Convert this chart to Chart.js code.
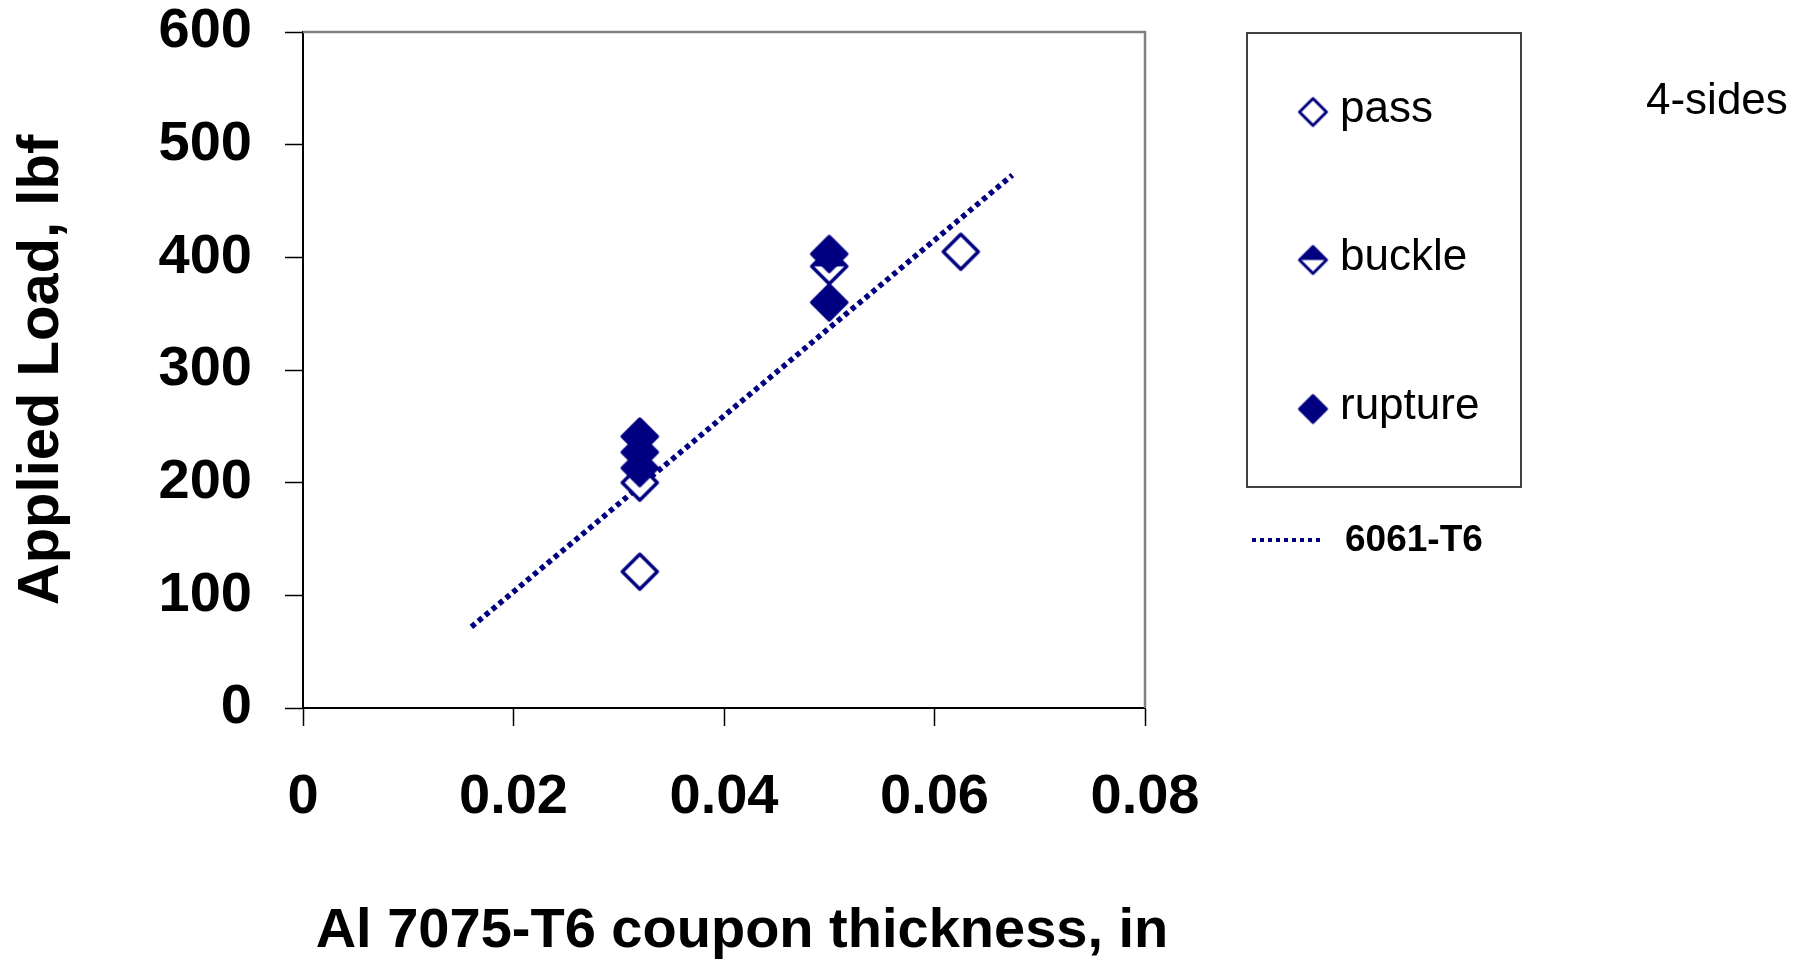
<!DOCTYPE html>
<html>
<head>
<meta charset="utf-8">
<script src="https://cdn.jsdelivr.net/npm/chart.js@4.4.1/dist/chart.umd.min.js"></script>
<style>
  body { margin: 0; background: #fff; }
  #wrap { width: 1814px; height: 962px; }
</style>
</head>
<body>
<div id="wrap"><canvas id="myChart" width="1814" height="962"></canvas></div>
<script>
// values
let seriesNames = ["pass", "buckle", "rupture"];
let passX = [0.032, 0.032, 0.0625];
let passY = [121, 200, 405];
let buckleX = [0.05];
let buckleY = [392];
let ruptureX = [0.032, 0.032, 0.032, 0.05, 0.05];
let ruptureY = [241, 227, 213, 403, 360];
let fitName = "6061-T6";
let fitX = [0.016, 0.0674];
let fitY = [72, 473];
let xTicks = [0, 0.02, 0.04, 0.06, 0.08];
let yTicks = [0, 100, 200, 300, 400, 500, 600];
let xTitle = "Al 7075-T6 coupon thickness, in";
let yTitle = "Applied Load, lbf";
let note = "4-sides";

let navy = "#000080";
let font = "'Liberation Sans', Arial, sans-serif";

function toPoints(xs, ys) {
  let pts = [];
  for (let i = 0; i < xs.length; i++) {
    pts.push({ x: xs[i], y: ys[i] });
  }
  return pts;
}

// diamond markers drawn on small canvases
function makeMarker(kind, size, lw) {
  let c = document.createElement("canvas");
  c.width = size + 8;
  c.height = size + 8;
  let g = c.getContext("2d");
  let m = c.width / 2;
  let h = size / 2;
  function path() {
    g.beginPath();
    g.moveTo(m, m - h);
    g.lineTo(m + h, m);
    g.lineTo(m, m + h);
    g.lineTo(m - h, m);
    g.closePath();
  }
  path();
  g.fillStyle = kind === "rupture" ? navy : "#fff";
  g.fill();
  if (kind === "buckle") {
    g.save();
    g.beginPath();
    g.rect(0, 0, c.width, m);
    g.clip();
    path();
    g.fillStyle = navy;
    g.fill();
    g.restore();
  }
  path();
  g.lineWidth = lw;
  g.lineJoin = "round";
  g.strokeStyle = navy;
  g.stroke();
  return c;
}

let bigMarkers = {};
let smallMarkers = {};
for (let i = 0; i < seriesNames.length; i++) {
  bigMarkers[seriesNames[i]] = makeMarker(seriesNames[i], 35, 3.5);
  smallMarkers[seriesNames[i]] = makeMarker(seriesNames[i], 27, 3);
}

// gray frame on top/right, x title, and the hand-made legend box
let extras = {
  id: "extras",
  beforeDatasetsDraw(chart) {
    let a = chart.chartArea;
    let ctx = chart.ctx;
    ctx.save();
    ctx.strokeStyle = "#808080";
    ctx.lineWidth = 2.5;
    ctx.beginPath();
    ctx.moveTo(a.left, a.top);
    ctx.lineTo(a.right, a.top);
    ctx.lineTo(a.right, a.bottom);
    ctx.stroke();
    ctx.restore();
  },
  afterDraw(chart) {
    let ctx = chart.ctx;
    ctx.save();
    ctx.fillStyle = "#000";
    ctx.textBaseline = "middle";
    ctx.textAlign = "center";
    ctx.font = "bold 56px " + font;
    ctx.fillText(xTitle, 742, 932);

    ctx.strokeStyle = "#404040";
    ctx.lineWidth = 2;
    ctx.strokeRect(1247, 33, 274, 454);

    let rowY = [110, 258, 407];
    ctx.font = "44px " + font;
    ctx.textAlign = "left";
    for (let i = 0; i < seriesNames.length; i++) {
      let mk = smallMarkers[seriesNames[i]];
      ctx.drawImage(mk, 1313 - mk.width / 2, rowY[i] + 2 - mk.height / 2);
      ctx.fillText(seriesNames[i], 1340, rowY[i]);
    }
    ctx.fillText(note, 1646, 102);

    ctx.strokeStyle = navy;
    ctx.lineWidth = 4;
    ctx.setLineDash([4, 4]);
    ctx.beginPath();
    ctx.moveTo(1252, 540);
    ctx.lineTo(1322, 540);
    ctx.stroke();
    ctx.setLineDash([]);
    ctx.font = "bold 37px " + font;
    ctx.fillText(fitName, 1345, 541);
    ctx.restore();
  },
};

let ctx = document.getElementById("myChart").getContext("2d");
let chart = new Chart(ctx, {
  type: "scatter",
  plugins: [extras],
  data: {
    datasets: [
      {
        label: seriesNames[2],
        data: toPoints(ruptureX, ruptureY),
        pointStyle: bigMarkers.rupture,
        order: 0,
      },
      {
        label: seriesNames[1],
        data: toPoints(buckleX, buckleY),
        pointStyle: bigMarkers.buckle,
        order: 1,
      },
      {
        label: seriesNames[0],
        data: toPoints(passX, passY),
        pointStyle: bigMarkers.pass,
        order: 2,
      },
      {
        label: fitName,
        data: toPoints(fitX, fitY),
        showLine: true,
        pointRadius: 0,
        borderColor: navy,
        borderWidth: 5.5,
        borderDash: [5, 4],
        borderCapStyle: "butt",
        order: 3,
      },
    ],
  },
  options: {
    responsive: false,
    animation: false,
    devicePixelRatio: 1,
    layout: { padding: { left: 0, top: 32, right: 669, bottom: 0 } },
    plugins: {
      legend: { display: false },
      tooltip: { enabled: false },
    },
    scales: {
      x: {
        type: "linear",
        min: 0,
        max: 0.08,
        afterFit(scale) {
          scale.height = 254;
        },
        afterBuildTicks(scale) {
          scale.ticks = xTicks.map((v) => ({ value: v }));
        },
        border: { color: "#000", width: 2 },
        grid: {
          drawOnChartArea: false,
          tickLength: 18,
          tickColor: "#000",
          tickWidth: 1.5,
        },
        ticks: {
          color: "#000",
          padding: 38,
          maxRotation: 0,
          font: { family: font, size: 56, weight: "bold" },
          callback: (v) => String(v),
        },
      },
      y: {
        min: 0,
        max: 600,
        afterFit(scale) {
          scale.width = 303;
          // keep the label padding from pushing the plot down
          scale.paddingTop = 0;
          scale.paddingBottom = 0;
        },
        afterBuildTicks(scale) {
          scale.ticks = yTicks.map((v) => ({ value: v }));
        },
        border: { color: "#000", width: 2 },
        grid: {
          drawOnChartArea: false,
          tickLength: 18,
          tickColor: "#000",
          tickWidth: 1.5,
        },
        ticks: {
          color: "#000",
          padding: 33,
          font: { family: font, size: 56, weight: "bold" },
        },
        title: {
          display: true,
          text: yTitle,
          color: "#000",
          padding: { top: 7, bottom: 0 },
          font: { family: font, size: 58, weight: "bold" },
        },
      },
    },
  },
});
</script>
</body>
</html>
